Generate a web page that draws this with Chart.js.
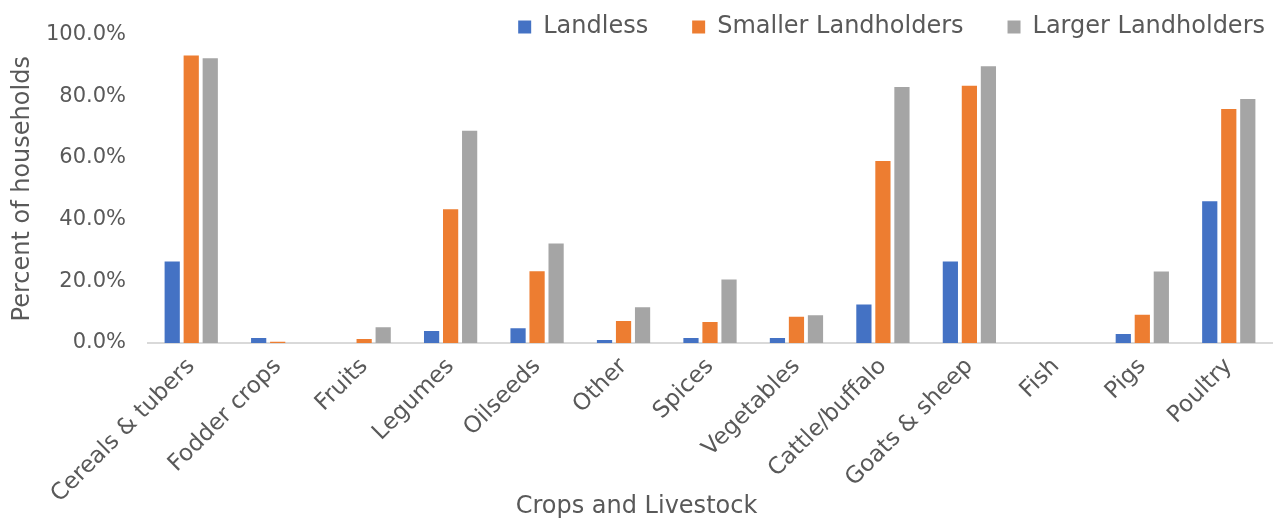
<!DOCTYPE html>
<html>
<head>
<meta charset="utf-8">
<script src="https://cdn.jsdelivr.net/npm/chart.js@4.4.1/dist/chart.umd.min.js"></script>
<style>
html,body{margin:0;padding:0;background:#fff;}
#wrap{width:1273px;height:518px;}
</style>
</head>
<body>
<div id="wrap"><canvas id="c" width="1273" height="518"></canvas></div>
<script>
const categories = ["Cereals & tubers","Fodder crops","Fruits","Legumes","Oilseeds","Other","Spices","Vegetables","Cattle/buffalo","Goats & sheep","Fish","Pigs","Poultry"];
const landless = [26.4,1.6,0,3.9,4.8,1.0,1.6,1.6,12.5,26.4,0,2.9,46.0];
const smaller = [93.2,0.4,1.3,43.4,23.3,7.1,6.8,8.5,59.0,83.4,0,9.2,75.9];
const larger = [92.3,0,5.1,68.8,32.3,11.6,20.6,9.0,83.0,89.7,0,23.2,79.1];
const seriesNames = ["Landless","Smaller Landholders","Larger Landholders"];
const yTicks = [0,20,40,60,80,100];

const FONT = "'DejaVu Sans', sans-serif";
const TXT = "#595959";
const colors = ["#4472C4","#ED7D31","#A5A5A5"];
const LEG_FS = 24;
const LEG_PAD = 44;
const TITLE_FS = 24;

const boxPatch = {
  id: 'boxPatch',
  beforeLayout(chart) {
    const lg = chart.legend;
    if (lg && !lg.__patched) {
      const f = lg.fit;
      lg.fit = function () { f.call(this); this.height = 0; };
      lg.__patched = true;
    }
    const tb = chart.titleBlock;
    if (tb && !tb.__patched) {
      const u = tb.update;
      tb.update = function (a, b, c) { u.call(this, a, b, c); this.height = 0; this.bottom = 0; };
      tb.__patched = true;
    }
  },
  afterLayout(chart) {
    const lg = chart.legend;
    if (lg) {
      lg.top = 27 - LEG_PAD - LEG_FS / 2;
      lg.bottom = lg.top + 120;
      lg.right = 1265 + LEG_PAD;
    }
    const tb = chart.titleBlock;
    if (tb) {
      const lh = TITLE_FS * 1.2;
      tb.top = 507 - lh / 2;
      tb.bottom = tb.top + lh;
      tb.height = lh;
      tb.left = 0;
      tb.right = 1273;
      tb.width = 1273;
    }
  }
};

new Chart(document.getElementById('c'), {
  type: 'bar',
  data: {
    labels: categories,
    datasets: [landless, smaller, larger].map((d,i)=>({
      label: seriesNames[i],
      data: d,
      backgroundColor: colors[i],
      borderWidth: 0,
      categoryPercentage: 0.66,
      barPercentage: 0.8
    }))
  },
  plugins: [boxPatch],
  options: {
    responsive: false,
    animation: false,
    layout: { padding: { left: 4, right: 1, top: 31, bottom: 0 } },
    plugins: {
      legend: {
        position: 'top',
        align: 'end',
        labels: { boxWidth: 13, boxHeight: 13, color: TXT, font: { family: FONT, size: LEG_FS }, padding: LEG_PAD }
      },
      title: {
        display: true,
        position: 'bottom',
        text: 'Crops and Livestock',
        color: TXT,
        font: { family: FONT, size: TITLE_FS, weight: 'normal' },
        padding: 0
      },
      tooltip: { enabled: false }
    },
    scales: {
      x: {
        afterFit: (s) => { s.height = 175; },
        grid: { display: false, drawTicks: false },
        border: { display: true, color: '#d9d9d9', width: 2 },
        ticks: { color: TXT, font: { family: FONT, size: 23 }, minRotation: 45, maxRotation: 45, autoSkip: false, padding: 10 }
      },
      y: {
        min: 0, max: 100,
        afterFit: (s) => { s.width = 144; },
        afterBuildTicks: (s) => { s.ticks = yTicks.map(v=>({value:v})); },
        grid: { display: false, drawTicks: false },
        border: { display: false },
        ticks: { color: TXT, font: { family: FONT, size: 21 }, padding: 22, callback: v => v.toFixed(1) + '%' },
        title: { display: true, text: 'Percent of households', color: TXT, font: { family: FONT, size: 24 }, padding: { top: 4, bottom: 4 } }
      }
    }
  }
});
</script>
</body>
</html>
